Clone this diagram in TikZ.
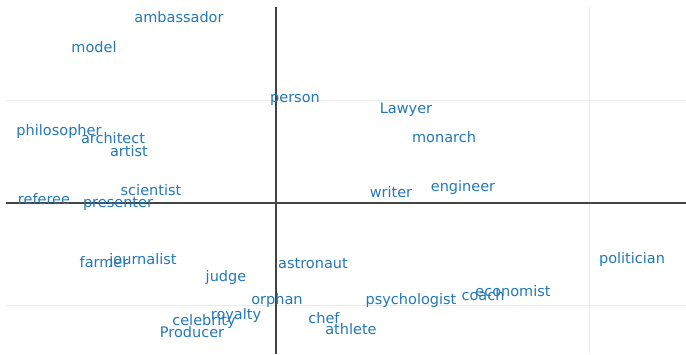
\documentclass[tikz,border=0pt]{standalone}
\usepackage{fontspec}
\setmainfont{DejaVu Sans}
\definecolor{lbl}{RGB}{36,120,184}
\definecolor{gridc}{RGB}{235,235,235}
\definecolor{axisc}{RGB}{68,68,68}
\begin{document}
\begin{tikzpicture}[x=1pt,y=-1pt,
  lab/.style={text=lbl,inner sep=0pt,anchor=mid,yshift=-3pt,font=\fontsize{14.5}{17}\selectfont},
  gridline/.style={draw=gridc,line width=1pt},
  axisline/.style={draw=axisc,line width=1.4pt}]
\useasboundingbox (0,0) rectangle (686,354);
\fill[white] (0,0) rectangle (686,354);
% grid
\coordinate (g1a) at (6,100); \coordinate (g1b) at (686,100);
\coordinate (g2a) at (6,305); \coordinate (g2b) at (686,305);
\coordinate (g3a) at (589,7); \coordinate (g3b) at (589,354);
\draw[gridline] (g1a) -- (g1b);
\draw[gridline] (g2a) -- (g2b);
\draw[gridline] (g3a) -- (g3b);
% axes
\coordinate (xa) at (6,203); \coordinate (xb) at (686,203);
\coordinate (ya) at (276,7); \coordinate (yb) at (276,354);
\draw[axisline] (xa) -- (xb);
\draw[axisline] (ya) -- (yb);
% labels
\node[lab] (ambassador) at (179,17) {ambassador};
\node[lab] (model) at (94,47) {model};
\node[lab] (person) at (295,97) {person};
\node[lab] (lawyer) at (406,108) {Lawyer};
\node[lab] (philosopher) at (59,130) {philosopher};
\node[lab] (architect) at (113,138) {architect};
\node[lab] (artist) at (129,151) {artist};
\node[lab] (monarch) at (444,137) {monarch};
\node[lab] (scientist) at (151,190) {scientist};
\node[lab] (writer) at (391,192) {writer};
\node[lab] (engineer) at (463,186) {engineer};
\node[lab] (referee) at (44,199) {referee};
\node[lab] (presenter) at (118,202) {presenter};
\node[lab] (farmer) at (104,262) {farmer};
\node[lab] (journalist) at (143,259) {journalist};
\node[lab] (judge) at (226,276) {judge};
\node[lab] (astronaut) at (313,263) {astronaut};
\node[lab] (politician) at (632,258) {politician};
\node[lab] (orphan) at (277,299) {orphan};
\node[lab] (psychologist) at (411,299) {psychologist};
\node[lab] (coach) at (483,295) {coach};
\node[lab] (economist) at (513,291) {economist};
\node[lab] (celebrity) at (204,320) {celebrity};
\node[lab] (royalty) at (236,314) {royalty};
\node[lab] (chef) at (324,318) {chef};
\node[lab] (athlete) at (351,329) {athlete};
\node[lab] (producer) at (192,332) {Producer};
\end{tikzpicture}
\end{document}
